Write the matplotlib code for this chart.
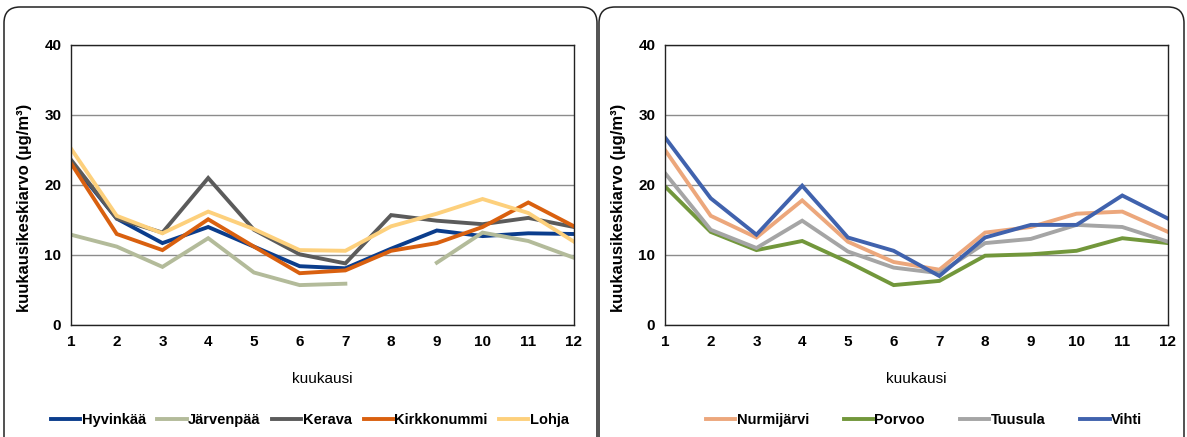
import numpy as np
import matplotlib
matplotlib.use("Agg")
import matplotlib.pyplot as plt
from matplotlib.patches import FancyBboxPatch

plt.rcParams['font.family'] = ['Liberation Sans', 'DejaVu Sans']

months = list(range(1, 13))

# left panel
hyvinkaa = [23.3, 15.2, 11.7, 14.0, 11.2, 8.4, 8.1, 10.9, 13.5, 12.7, 13.1, 13.0]
jarvenpaa = [12.9, 11.2, 8.3, 12.4, 7.5, 5.7, 5.9, np.nan, 8.9, 13.2, 12.0, 9.6]
kerava = [23.6, 15.2, 13.2, 21.0, 13.6, 10.1, 8.8, 15.7, 14.9, 14.4, 15.3, 14.0]
kirkkonummi = [23.1, 13.0, 10.7, 15.1, 11.2, 7.4, 7.8, 10.6, 11.7, 14.0, 17.5, 14.1]
lohja = [25.2, 15.6, 13.1, 16.2, 13.7, 10.7, 10.6, 14.1, 15.9, 18.0, 16.0, 11.9]

# right panel
nurmijarvi = [25.0, 15.6, 12.5, 17.8, 11.9, 9.0, 7.9, 13.2, 14.0, 15.9, 16.2, 13.3]
porvoo = [19.8, 13.3, 10.7, 12.0, 9.0, 5.7, 6.3, 9.9, 10.1, 10.6, 12.4, 11.7]
tuusula = [21.7, 13.6, 11.0, 14.9, 10.5, 8.2, 7.4, 11.7, 12.3, 14.3, 14.0, 11.9]
vihti = [26.8, 18.1, 12.9, 19.9, 12.5, 10.6, 7.0, 12.5, 14.3, 14.3, 18.5, 15.2]

left_series = [
    ("Hyvinkää", hyvinkaa, "#0b3d8c"),
    ("Järvenpää", jarvenpaa, "#b3bb9a"),
    ("Kerava", kerava, "#5b5b5b"),
    ("Kirkkonummi", kirkkonummi, "#d9600f"),
    ("Lohja", lohja, "#fdd07c"),
]
right_series = [
    ("Nurmijärvi", nurmijarvi, "#eca77c"),
    ("Porvoo", porvoo, "#72973b"),
    ("Tuusula", tuusula, "#a5a5a5"),
    ("Vihti", vihti, "#4062ad"),
]

W, H = 1187, 437
fig = plt.figure(figsize=(W / 100, H / 100), dpi=100)

# rounded panel frames in inches (bottom edge runs off the picture)
for x0, x1 in [(4, 597), (599, 1184)]:
    top = H - 7
    bot = -40
    box = FancyBboxPatch((x0 / 100, bot / 100), (x1 - x0) / 100, (top - bot) / 100,
                         boxstyle="round,pad=0,rounding_size=0.16",
                         transform=fig.dpi_scale_trans, fill=False,
                         edgecolor="#222222", linewidth=1.1, clip_on=False)
    fig.patches.append(box)


def draw_panel(ax, series, colspace, leg_x):
    for name, vals, col in series:
        ax.plot(months, vals, color=col, linewidth=2.8, label=name,
                solid_joinstyle="miter")
    ax.set_xlim(1, 12)
    ax.set_ylim(0, 40)
    ax.set_xticks(months)
    ax.set_yticks([0, 10, 20, 30, 40])
    ax.yaxis.grid(True, color="#8c8c8c", linewidth=1.0)
    ax.set_axisbelow(True)
    ax.tick_params(length=0, labelsize=11, pad=7)
    for lab in ax.get_xticklabels() + ax.get_yticklabels():
        lab.set_fontweight("bold")
    for sp in ax.spines.values():
        sp.set_color("#222222")
        sp.set_linewidth(1.0)
    ax.set_ylabel("kuukausikeskiarvo (µg/m³)", fontsize=12, fontweight="bold")
    ax.yaxis.set_label_coords(-0.077, 0.42)
    ax.set_xlabel("kuukausi", fontsize=11, labelpad=17)
    leg = ax.legend(loc="center", bbox_to_anchor=(leg_x, -0.34), ncol=len(series),
                    frameon=False, fontsize=10.5, handlelength=2.0,
                    handletextpad=0.1, columnspacing=colspace,
                    borderaxespad=0)
    for t in leg.get_texts():
        t.set_fontweight("bold")


ax1 = fig.add_axes([71 / W, (H - 325) / H, 503 / W, 280 / H])
draw_panel(ax1, left_series, 0.8, 0.475)

ax2 = fig.add_axes([665 / W, (H - 325) / H, 503 / W, 280 / H])
draw_panel(ax2, right_series, 2.4, 0.515)

fig.savefig("out.png", dpi=100)
